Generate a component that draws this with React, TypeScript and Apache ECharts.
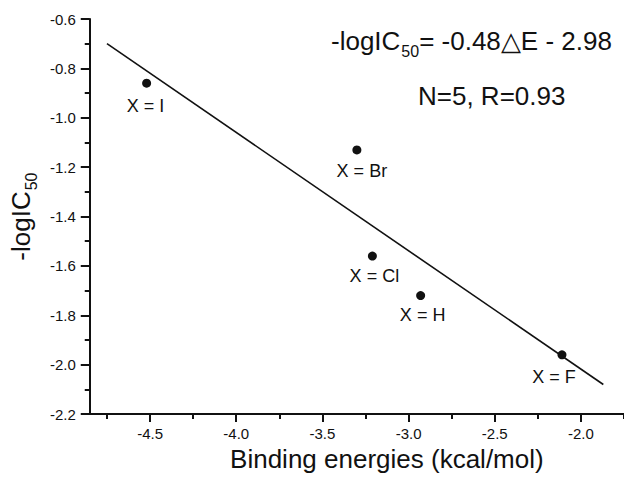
import React, { useEffect, useRef } from "react";
import * as echarts from "echarts";

const pointNames = ["X = I", "X = Br", "X = Cl", "X = H", "X = F"];
const bindingEnergies = [-4.52, -3.30, -3.21, -2.93, -2.11];
const negLogIC50 = [-0.86, -1.13, -1.56, -1.72, -1.96];
const fitLine = [
  [-4.75, -0.70],
  [-1.87, -2.08],
];
const xMajorTicks = [-4.5, -4.0, -3.5, -3.0, -2.5, -2.0];
const xMinorTicks = [-4.75, -4.25, -3.75, -3.25, -2.75, -2.25, -1.75];
const equationText = "{main|-logIC}{sub|50}{main|= -0.48\u25B3E - 2.98}";
const yTitleText = "{main|-logIC}{sub|50}";
const statsText = "N=5, R=0.93";

const labelOffsets = [
  [-1, 23],
  [5, 21],
  [2, 20],
  [2, 19],
  [-8, 22],
];

const FONT = "Liberation Sans, Arial, Helvetica, sans-serif";
const INK = "#111111";

const richMain = { fontSize: 26, lineHeight: 30, verticalAlign: "top", fontFamily: FONT, color: INK, fill: INK };
const richSub = {
  fontSize: 16,
  lineHeight: 18,
  verticalAlign: "top",
  padding: [15, 0, 0, 1],
  fontFamily: FONT,
  color: INK,
  fill: INK,
};

export default function App() {
  const ref = useRef<HTMLDivElement>(null);
  useEffect(() => {
    if (!ref.current) return;
    const chart = echarts.init(ref.current, null, { renderer: "svg" });
    const scatterData = bindingEnergies.map((x, i) => ({
      name: pointNames[i],
      value: [x, negLogIC50[i]],
      label: { offset: labelOffsets[i] },
    }));
    chart.setOption({
      animation: false,
      backgroundColor: "#ffffff",
      textStyle: { fontFamily: FONT },
      grid: { left: 86, top: 19, right: 0, bottom: 57, containLabel: false },
      xAxis: [
        {
          type: "value",
          min: -4.85,
          max: -1.75,
          position: "bottom",
          axisLine: { show: true, onZero: false, lineStyle: { color: INK, width: 2 } },
          axisTick: { show: true, length: 8, customValues: xMajorTicks, lineStyle: { color: INK, width: 2 } },
          axisLabel: {
            show: true,
            customValues: xMajorTicks,
            formatter: (v: number) => v.toFixed(1),
            fontSize: 15,
            color: INK,
            margin: 12,
            fontFamily: FONT,
          },
          splitLine: { show: false },
          name: "Binding energies (kcal/mol)",
          nameLocation: "middle",
          nameGap: 26,
          nameTextStyle: { fontSize: 26, color: INK, fontFamily: FONT, padding: [0, 0, 0, 60] },
        },
        {
          type: "value",
          min: -4.85,
          max: -1.75,
          position: "bottom",
          axisLine: { show: false, onZero: false },
          axisTick: { show: true, length: 5, customValues: xMinorTicks, lineStyle: { color: INK, width: 2 } },
          axisLabel: { show: false },
          splitLine: { show: false },
        },
      ],
      yAxis: {
        type: "value",
        min: -2.2,
        max: -0.6,
        interval: 0.2,
        axisLine: { show: true, onZero: false, lineStyle: { color: INK, width: 2 } },
        axisTick: { show: true, length: 9, lineStyle: { color: INK, width: 2 } },
        minorTick: { show: true, splitNumber: 2, length: 5, lineStyle: { color: INK, width: 2 } },
        axisLabel: {
          formatter: (v: number) => v.toFixed(1),
          fontSize: 15,
          color: INK,
          margin: 14,
          fontFamily: FONT,
        },
        splitLine: { show: false },
        name: yTitleText,
        nameLocation: "middle",
        nameGap: 48,
        nameRotate: 90,
        nameTextStyle: {
          fontSize: 26,
          color: INK,
          fontFamily: FONT,
          rich: { main: richMain, sub: richSub },
        },
      },
      series: [
        {
          type: "line",
          data: fitLine,
          xAxisIndex: 0,
          symbol: "none",
          lineStyle: { color: INK, width: 1.6 },
          z: 2,
        },
        {
          type: "scatter",
          data: scatterData,
          xAxisIndex: 0,
          symbol: "circle",
          symbolSize: 9,
          itemStyle: { color: INK, opacity: 1 },
          label: {
            show: true,
            position: "inside",
            formatter: (p: any) => p.name,
            fontSize: 18,
            color: INK,
            fontFamily: FONT,
          },
          z: 3,
        },
      ],
      graphic: [
        {
          type: "text",
          left: 331,
          top: 28,
          style: {
            text: equationText,
            fontSize: 26,
            fill: INK,
            fontFamily: FONT,
            rich: { main: richMain, sub: richSub },
          },
        },
        {
          type: "text",
          left: 418,
          top: 83,
          style: { text: statsText, fontSize: 26, fill: INK, fontFamily: FONT },
        },
      ],
    });
    return () => chart.dispose();
  }, []);
  return (
    <div
      ref={ref}
      style={{ position: "fixed", left: 0, top: 0, width: 624, height: 477, background: "#fff" }}
    />
  );
}
